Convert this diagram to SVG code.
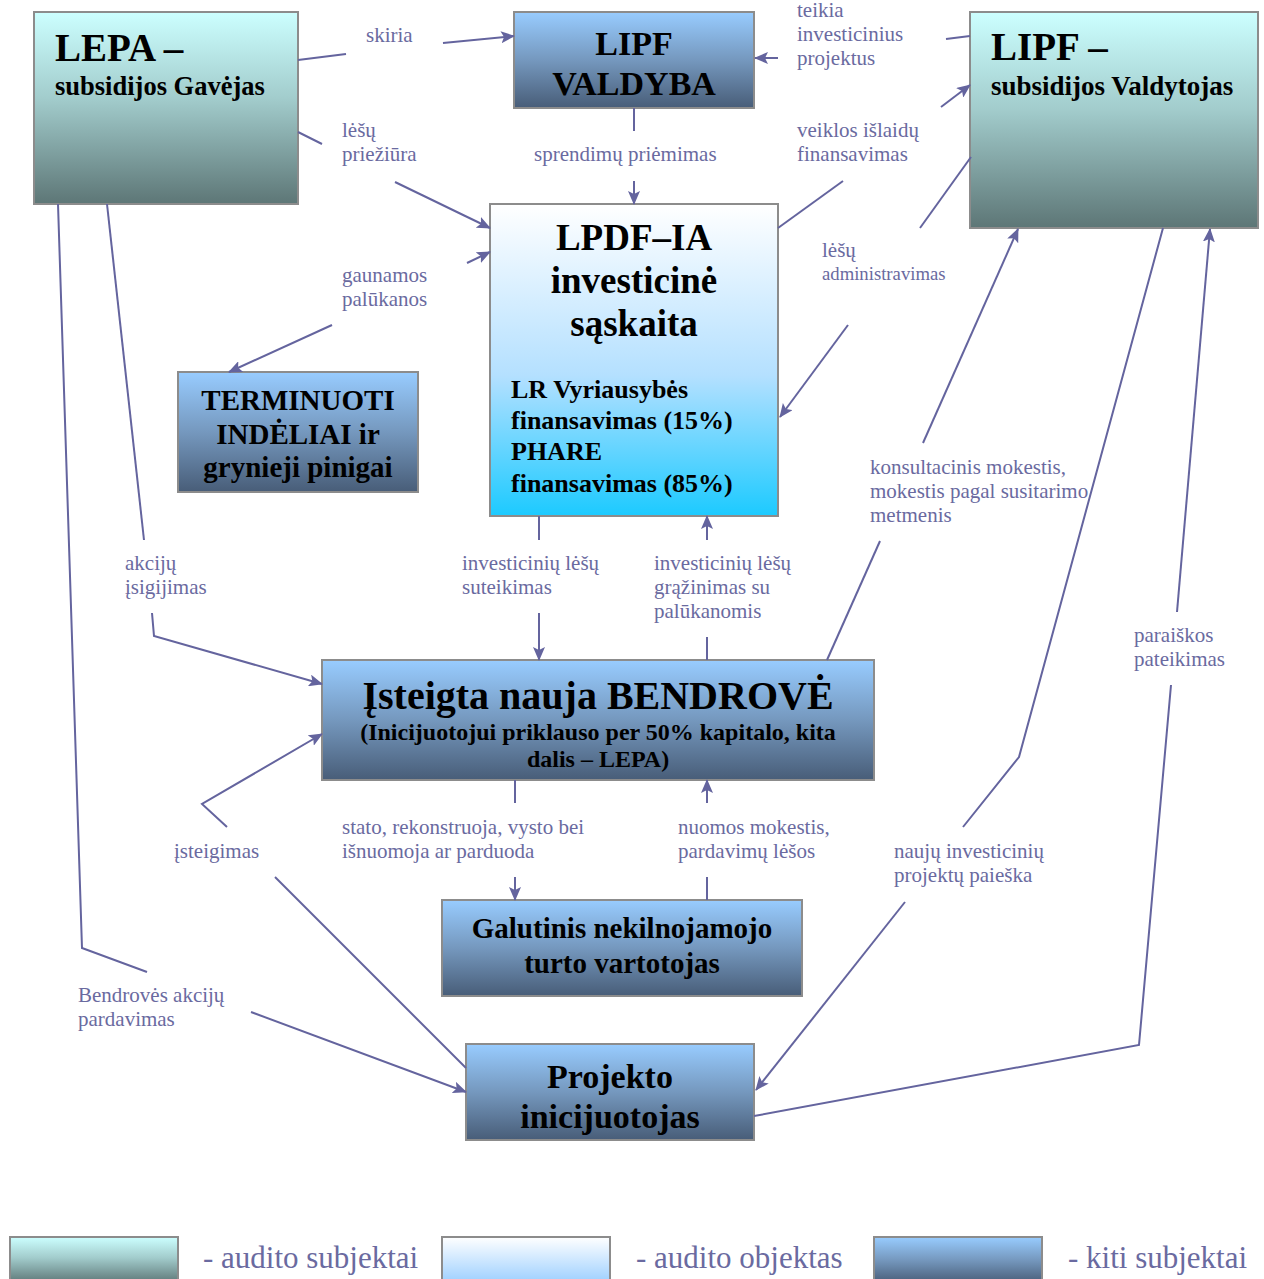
<svg xmlns="http://www.w3.org/2000/svg" width="1264" height="1279" viewBox="0 0 1264 1279">
<defs>
<linearGradient id="gSubj" x1="0" y1="0" x2="0" y2="1">
<stop offset="0" stop-color="#ccffff"/><stop offset="0.45" stop-color="#a2cccc"/><stop offset="1" stop-color="#5d7676"/>
</linearGradient>
<linearGradient id="gOther" x1="0" y1="0" x2="0" y2="1">
<stop offset="0" stop-color="#98ccff"/><stop offset="0.5" stop-color="#7598be"/><stop offset="1" stop-color="#485d78"/>
</linearGradient>
<linearGradient id="gObj" x1="0" y1="0" x2="0" y2="1">
<stop offset="0" stop-color="#ffffff"/><stop offset="0.55" stop-color="#b4e0ff"/><stop offset="1" stop-color="#1ccaff"/>
</linearGradient>
<linearGradient id="gObjLeg" x1="0" y1="0" x2="0" y2="1">
<stop offset="0" stop-color="#ffffff"/><stop offset="1" stop-color="#9ccfff"/>
</linearGradient>
<marker id="arr" viewBox="0 0 14 12" refX="13" refY="6" markerWidth="14" markerHeight="12" markerUnits="userSpaceOnUse" orient="auto">
<path d="M0,0 L14,6 L0,12 L3,6 z" fill="#64649e"/>
</marker>
<style>
.box{stroke:#8c8c8c;stroke-width:2}
.t{font-family:"Liberation Serif","Times New Roman",serif;font-weight:bold;fill:#000}
.c{text-anchor:middle}
.lbl{font-family:"Liberation Serif","Times New Roman",serif;font-size:21px;fill:#6a6aa0}
.sm{font-size:18.7px}
.ln{fill:none;stroke:#64649e;stroke-width:2}
.leg{font-family:"Liberation Serif","Times New Roman",serif;font-size:31px;fill:#6a6aa0}
</style>
</defs>
<rect width="1264" height="1279" fill="#ffffff"/>

<g id="node-lepa">
<rect class="box" x="34" y="12" width="264" height="192" fill="url(#gSubj)"/>
<text class="t" x="55" y="61" font-size="39">LEPA –</text>
<text class="t" x="55" y="95" font-size="26.5">subsidijos Gavėjas</text>
</g>
<g id="node-lipf-valdyba">
<rect class="box" x="514" y="12" width="240" height="96" fill="url(#gOther)"/>
<text class="t c" x="634" y="55" font-size="34">LIPF</text>
<text class="t c" x="634" y="95" font-size="34">VALDYBA</text>
</g>
<g id="node-lipf-valdytojas">
<rect class="box" x="970" y="12" width="288" height="216" fill="url(#gSubj)"/>
<text class="t" x="991" y="60" font-size="39">LIPF –</text>
<text class="t" x="991" y="95" font-size="27">subsidijos Valdytojas</text>
</g>
<g id="node-lpdf">
<rect class="box" x="490" y="204" width="288" height="312" fill="url(#gObj)"/>
<text class="t c" x="634" y="250" font-size="37">LPDF–IA</text>
<text class="t c" x="634" y="293" font-size="37">investicinė</text>
<text class="t c" x="634" y="336" font-size="37">sąskaita</text>
<text class="t" x="511" y="398" font-size="26">LR Vyriausybės</text>
<text class="t" x="511" y="429" font-size="26">finansavimas (15%)</text>
<text class="t" x="511" y="460" font-size="26">PHARE</text>
<text class="t" x="511" y="492" font-size="26">finansavimas (85%)</text>
</g>
<g id="node-terminuoti">
<rect class="box" x="178" y="372" width="240" height="120" fill="url(#gOther)"/>
<text class="t c" x="298" y="410" font-size="29">TERMINUOTI</text>
<text class="t c" x="298" y="444" font-size="29">INDĖLIAI ir</text>
<text class="t c" x="298" y="477" font-size="29">grynieji pinigai</text>
</g>
<g id="node-bendrove">
<rect class="box" x="322" y="660" width="552" height="120" fill="url(#gOther)"/>
<text class="t c" x="598" y="709" font-size="40">Įsteigta nauja BENDROVĖ</text>
<text class="t c" x="598" y="740" font-size="24">(Inicijuotojui priklauso per 50% kapitalo, kita</text>
<text class="t c" x="598" y="767" font-size="24">dalis – LEPA)</text>
</g>
<g id="node-galutinis">
<rect class="box" x="442" y="900" width="360" height="96" fill="url(#gOther)"/>
<text class="t c" x="622" y="938" font-size="29">Galutinis nekilnojamojo</text>
<text class="t c" x="622" y="973" font-size="29">turto vartotojas</text>
</g>
<g id="node-projekto">
<rect class="box" x="466" y="1044" width="288" height="96" fill="url(#gOther)"/>
<text class="t c" x="610" y="1088" font-size="34">Projekto</text>
<text class="t c" x="610" y="1128" font-size="34">inicijuotojas</text>
</g>

<g id="connectors">
<path class="ln" d="M298,60 L346,54"/>
<path class="ln" d="M443,43 L514,36" marker-end="url(#arr)"/>
<path class="ln" d="M298,132 L322,144"/>
<path class="ln" d="M395,182 L490,228" marker-end="url(#arr)"/>
<path class="ln" d="M634,108 L634,131"/>
<path class="ln" d="M634,181 L634,204" marker-end="url(#arr)"/>
<path class="ln" d="M970,36 L946,39"/>
<path class="ln" d="M778,58 L755,58" marker-end="url(#arr)"/>
<path class="ln" d="M778,228 L843,181"/>
<path class="ln" d="M941,107 L970,85" marker-end="url(#arr)"/>
<path class="ln" d="M971,157 L920,228"/>
<path class="ln" d="M848,325 L780,417" marker-end="url(#arr)"/>
<path class="ln" d="M467,263 L490,252" marker-end="url(#arr)"/>
<path class="ln" d="M332,325 L229,372" marker-end="url(#arr)"/>
<path class="ln" d="M107,204 L144,540"/>
<path class="ln" d="M152,613 L154,636 L322,684" marker-end="url(#arr)"/>
<path class="ln" d="M58,204 L82,948 L147,972"/>
<path class="ln" d="M251,1012 L466,1092" marker-end="url(#arr)"/>
<path class="ln" d="M466,1068 L275,877"/>
<path class="ln" d="M227,827 L202,804 L322,734" marker-end="url(#arr)"/>
<path class="ln" d="M539,516 L539,540"/>
<path class="ln" d="M539,613 L539,660" marker-end="url(#arr)"/>
<path class="ln" d="M707,660 L707,637"/>
<path class="ln" d="M707,540 L707,516" marker-end="url(#arr)"/>
<path class="ln" d="M827,660 L880,541"/>
<path class="ln" d="M923,443 L1018,229" marker-end="url(#arr)"/>
<path class="ln" d="M1163,228 L1019,757 L963,827"/>
<path class="ln" d="M905,902 L756,1090" marker-end="url(#arr)"/>
<path class="ln" d="M754,1116 L1139,1045 L1171,685"/>
<path class="ln" d="M1177,612 L1210,229" marker-end="url(#arr)"/>
<path class="ln" d="M515,780 L515,803"/>
<path class="ln" d="M515,877 L515,900" marker-end="url(#arr)"/>
<path class="ln" d="M707,900 L707,877"/>
<path class="ln" d="M707,803 L707,780" marker-end="url(#arr)"/>
</g>

<g id="labels">
<text class="lbl" x="366" y="42">skiria</text>
<text class="lbl" x="797" y="17">teikia</text>
<text class="lbl" x="797" y="41">investicinius</text>
<text class="lbl" x="797" y="65">projektus</text>
<text class="lbl" x="342" y="137">lėšų</text>
<text class="lbl" x="342" y="161">priežiūra</text>
<text class="lbl" x="534" y="161">sprendimų priėmimas</text>
<text class="lbl" x="797" y="137">veiklos išlaidų</text>
<text class="lbl" x="797" y="161">finansavimas</text>
<text class="lbl" x="822" y="257">lėšų</text>
<text class="lbl sm" x="822" y="280">administravimas</text>
<text class="lbl" x="342" y="282">gaunamos</text>
<text class="lbl" x="342" y="306">palūkanos</text>
<text class="lbl" x="125" y="570">akcijų</text>
<text class="lbl" x="125" y="594">įsigijimas</text>
<text class="lbl" x="462" y="570">investicinių lėšų</text>
<text class="lbl" x="462" y="594">suteikimas</text>
<text class="lbl" x="654" y="570">investicinių lėšų</text>
<text class="lbl" x="654" y="594">grąžinimas su</text>
<text class="lbl" x="654" y="618">palūkanomis</text>
<text class="lbl" x="870" y="474">konsultacinis mokestis,</text>
<text class="lbl" x="870" y="498">mokestis pagal susitarimo</text>
<text class="lbl" x="870" y="522">metmenis</text>
<text class="lbl" x="1134" y="642">paraiškos</text>
<text class="lbl" x="1134" y="666">pateikimas</text>
<text class="lbl" x="342" y="834">stato, rekonstruoja, vysto bei</text>
<text class="lbl" x="342" y="858">išnuomoja ar parduoda</text>
<text class="lbl" x="678" y="834">nuomos mokestis,</text>
<text class="lbl" x="678" y="858">pardavimų lėšos</text>
<text class="lbl" x="174" y="858">įsteigimas</text>
<text class="lbl" x="894" y="858">naujų investicinių</text>
<text class="lbl" x="894" y="882">projektų paieška</text>
<text class="lbl" x="78" y="1002">Bendrovės akcijų</text>
<text class="lbl" x="78" y="1026">pardavimas</text>
</g>

<g id="legend">
<rect class="box" x="10" y="1237" width="168" height="46" fill="url(#gSubj)"/>
<text class="leg" x="203" y="1268">- audito subjektai</text>
<rect class="box" x="442" y="1237" width="168" height="46" fill="url(#gObjLeg)"/>
<text class="leg" x="636" y="1268">- audito objektas</text>
<rect class="box" x="874" y="1237" width="168" height="46" fill="url(#gOther)"/>
<text class="leg" x="1068" y="1268">- kiti subjektai</text>
</g>
</svg>
